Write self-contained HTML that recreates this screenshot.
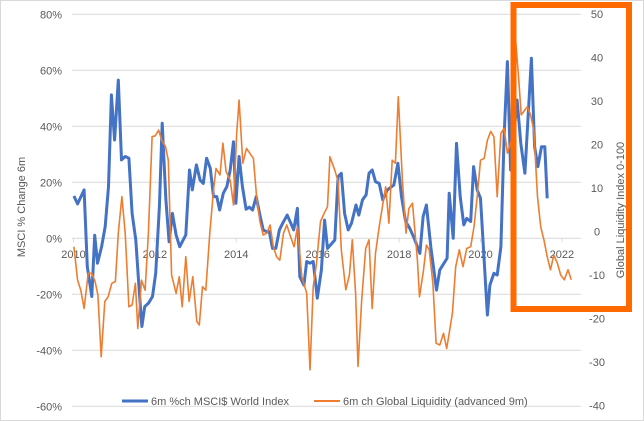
<!DOCTYPE html>
<html><head><meta charset="utf-8"><style>
html,body{margin:0;padding:0;background:#fff;}
svg{display:block;font-family:"Liberation Sans",sans-serif;}
</style></head><body>
<svg id="chart" width="644" height="421" viewBox="0 0 644 421" xmlns="http://www.w3.org/2000/svg">
<rect x="0.5" y="0.5" width="643" height="420" fill="#fff" stroke="#d9d9d9"/>
<g id="grid"></g>
<g id="axes"></g>
<g id="series"></g>
<text x="25" y="207" transform="rotate(-90 25 207)" text-anchor="middle" font-size="11" fill="#595959">MSCI % Change 6m</text>
<text x="624" y="210" transform="rotate(-90 624 210)" text-anchor="middle" font-size="11" fill="#595959">Global Liquidity Index 0-100</text>
<rect x="513.5" y="5" width="115.5" height="304" fill="none" stroke="#ff6a00" stroke-width="6"/>
<g>
<line x1="122" y1="401" x2="148" y2="401" stroke="#4472c4" stroke-width="3"/>
<text x="151" y="405" font-size="11" fill="#595959">6m %ch MSCI$ World Index</text>
<line x1="314" y1="401" x2="340" y2="401" stroke="#ed7d31" stroke-width="2"/>
<text x="343" y="405" font-size="11" fill="#595959">6m ch Global Liquidity (advanced 9m)</text>
</g>
</svg>
<script>
const leftTicks = [80, 60, 40, 20, 0, -20, -40, -60];
const rightTicks = [50, 40, 30, 20, 10, 0, -10, -20, -30, -40];
const xTickYears = [2010, 2012, 2014, 2016, 2018, 2020, 2022];

const msciYears = [0.01,0.10,0.26,0.34,0.45,0.52,0.59,0.69,0.78,0.86,0.93,1.01,1.10,1.18,1.27,1.36,1.44,1.53,1.62,1.68,1.75,1.84,1.94,2.02,2.11,2.18,2.27,2.35,2.43,2.52,2.61,2.76,2.85,2.92,3.02,3.11,3.19,3.27,3.36,3.44,3.52,3.59,3.68,3.77,3.85,3.93,3.99,4.07,4.15,4.24,4.32,4.40,4.49,4.58,4.66,4.74,4.81,4.89,4.97,5.06,5.14,5.25,5.34,5.41,5.50,5.56,5.66,5.73,5.81,5.89,5.99,6.09,6.17,6.24,6.42,6.50,6.58,6.66,6.75,6.83,6.94,7.01,7.10,7.19,7.26,7.34,7.42,7.51,7.60,7.71,7.87,7.97,8.06,8.16,8.26,8.37,8.51,8.59,8.67,8.78,8.92,9.00,9.18,9.23,9.33,9.41,9.50,9.59,9.66,9.76,9.83,9.92,10.00,10.17,10.23,10.33,10.41,10.50,10.58,10.66,10.74,10.90,10.99,11.09,11.25,11.33,11.41,11.50,11.58,11.64];
const msciValues = [15.1,12.3,17.3,-10.1,-20.8,1.1,-8.9,-3.0,4.2,18.5,51.2,35.1,56.5,28.0,29.2,28.6,8.9,-0.6,-19.6,-31.5,-24.4,-23.2,-20.8,-12.5,11.3,41.1,13.7,-1.2,8.9,1.2,-3.0,1.2,24.4,17.3,26.2,20.8,19.6,28.6,25.0,14.9,14.9,10.1,16.1,18.5,24.4,34.5,12.5,29.2,18.5,10.4,11.1,10.1,14.9,8.3,3.0,2.4,2.4,-3.6,-3.6,3.0,5.4,8.3,5.4,3.0,10.7,-13.7,-16.7,-8.3,-8.9,-8.3,-21.4,-11.3,6.5,-3.6,-0.6,22.0,23.2,8.9,3.0,5.4,11.9,8.3,13.7,15.5,23.2,24.4,20.2,19.6,13.7,17.3,19.0,26.8,14.9,6.0,3.6,0,-5.4,7.7,11.9,-3.0,-18.5,-11.3,-7.1,16.1,0,33.9,14.9,4.8,7.1,6.0,25.6,17.3,14.3,-27.4,-16.7,-12.5,-13.1,-3.0,36.3,63.1,24.4,49.4,33.9,23.2,64.3,32.7,25.6,32.7,32.7,14.3];

const liqYears = [0.01,0.10,0.18,0.26,0.36,0.45,0.53,0.60,0.68,0.77,0.85,0.94,1.03,1.10,1.19,1.27,1.36,1.44,1.52,1.58,1.67,1.76,1.84,1.93,2.01,2.09,2.17,2.26,2.33,2.41,2.52,2.60,2.67,2.76,2.84,2.93,3.03,3.09,3.17,3.25,3.35,3.44,3.50,3.60,3.67,3.75,3.85,3.93,4.01,4.07,4.16,4.25,4.42,4.50,4.58,4.66,4.75,4.83,4.91,4.99,5.07,5.16,5.24,5.32,5.42,5.50,5.61,5.73,5.81,5.89,5.97,6.07,6.16,6.24,6.30,6.42,6.50,6.58,6.69,6.78,6.85,6.93,6.99,7.08,7.18,7.26,7.34,7.42,7.51,7.59,7.67,7.75,7.83,7.91,7.98,8.08,8.17,8.24,8.33,8.45,8.50,8.60,8.67,8.74,8.83,8.91,9.00,9.09,9.17,9.23,9.31,9.39,9.48,9.57,9.66,9.76,9.84,9.92,10.00,10.09,10.17,10.25,10.33,10.41,10.50,10.58,10.66,10.76,10.86,10.94,11.00,11.15,11.23,11.31,11.40,11.48,11.56,11.64,11.72,11.80,11.89,11.97,12.06,12.15,12.23];
const liqValues = [-3.5,-11.2,-13.5,-17.7,-9.6,-9.6,-11.5,-14.6,-28.8,-16.1,-15.0,-11.9,-11.5,-0.4,8.0,-0.4,-17.3,-16.9,-11.9,-22.3,-11.2,-13.5,-0.4,21.8,22.0,23.3,21.0,19.5,16.4,-10.0,-14.2,-10.4,-17.3,-5.8,-16.1,-10.4,-20.7,-21.5,-12.7,-13.5,-0.4,9.5,14.5,13.0,20.3,13.8,11.8,6.1,22.6,30.2,15.7,19.1,16.8,8.0,2.3,-0.8,-0.4,1.5,-3.5,-5.8,-6.6,-0.4,1.5,-0.8,-3.5,1.1,-10.4,-14.2,-31.8,-12.7,-7.3,2.3,4.2,5.7,17.2,14.1,11.5,-4.2,-13.4,-10.0,-1.9,-14.2,-31.0,-15.7,-3.9,-1.9,-17.7,-5.0,1.1,5.7,10.3,1.9,16.4,15.7,31.0,11.8,-0.4,5.3,6.5,-6.5,-15.0,-8.9,-3.1,-4.2,-11.9,-25.7,-26.1,-23.4,-26.9,-23.4,-18.8,-8.1,-4.2,-8.1,-3.9,-3.5,1.1,8.0,16.4,16.8,21.0,23.0,21.8,8.0,22.6,23.7,18.0,21.0,44.4,34.8,26.8,28.7,26.8,23.3,8.0,1.1,-2.0,-5.8,-8.8,-5.4,-7.3,-10.0,-11.1,-8.8,-11.1];

const NS = "http://www.w3.org/2000/svg";
const plotL = 72, plotR = 581;
function xScale(yOff){ return 73.5 + yOff * 40.7; }
function yLeft(v){ return 238.3 - v * 2.8; }
function yRight(v){ return 231.5 - v * 4.35; }

const grid = document.getElementById('grid');
const axes = document.getElementById('axes');
const series = document.getElementById('series');

leftTicks.forEach(t => {
  const y = yLeft(t);
  const ln = document.createElementNS(NS,'line');
  ln.setAttribute('x1', plotL); ln.setAttribute('x2', plotR);
  ln.setAttribute('y1', y); ln.setAttribute('y2', y);
  ln.setAttribute('stroke', '#d9d9d9'); ln.setAttribute('stroke-width', '1');
  
  
  grid.appendChild(ln);
  const tx = document.createElementNS(NS,'text');
  tx.setAttribute('x', 62); tx.setAttribute('y', y + 4);
  tx.setAttribute('text-anchor', 'end'); tx.setAttribute('font-size', '11'); tx.setAttribute('fill', '#595959');
  tx.textContent = t + '%';
  
  
  axes.appendChild(tx);
});
rightTicks.forEach(t => {
  const tx = document.createElementNS(NS,'text');
  tx.setAttribute('x', 597); tx.setAttribute('y', yRight(t) + 4);
  tx.setAttribute('text-anchor', 'middle'); tx.setAttribute('font-size', '11'); tx.setAttribute('fill', '#595959');
  tx.textContent = t;
  
  
  axes.appendChild(tx);
});
xTickYears.forEach(yr => {
  const x = xScale(yr - 2010);
  const tk = document.createElementNS(NS,'line');
  tk.setAttribute('x1', x); tk.setAttribute('x2', x);
  tk.setAttribute('y1', yLeft(0)); tk.setAttribute('y2', yLeft(0) + 4);
  tk.setAttribute('stroke', '#d9d9d9');
  
  
  axes.appendChild(tk);
  const tx = document.createElementNS(NS,'text');
  tx.setAttribute('x', x); tx.setAttribute('y', 258);
  tx.setAttribute('text-anchor', 'middle'); tx.setAttribute('font-size', '11'); tx.setAttribute('fill', '#595959');
  tx.textContent = yr;
  
  
  axes.appendChild(tx);
});

function pathFor(xs, vs, yf){
  return xs.map((x,i) => (i ? 'L' : 'M') + xScale(x).toFixed(1) + ',' + yf(vs[i]).toFixed(1)).join(' ');
}
const pMsci = document.createElementNS(NS,'path');
pMsci.setAttribute('d', pathFor(msciYears, msciValues, yLeft));
pMsci.setAttribute('fill', 'none'); pMsci.setAttribute('stroke', '#4472c4');
pMsci.setAttribute('stroke-width', '3'); pMsci.setAttribute('stroke-linejoin', 'round');


series.appendChild(pMsci);

const pLiq = document.createElementNS(NS,'path');
pLiq.setAttribute('d', pathFor(liqYears, liqValues, yRight));
pLiq.setAttribute('fill', 'none'); pLiq.setAttribute('stroke', '#ed7d31');
pLiq.setAttribute('stroke-width', '1.6'); pLiq.setAttribute('stroke-linejoin', 'round');


series.appendChild(pLiq);
</script>
</body></html>
